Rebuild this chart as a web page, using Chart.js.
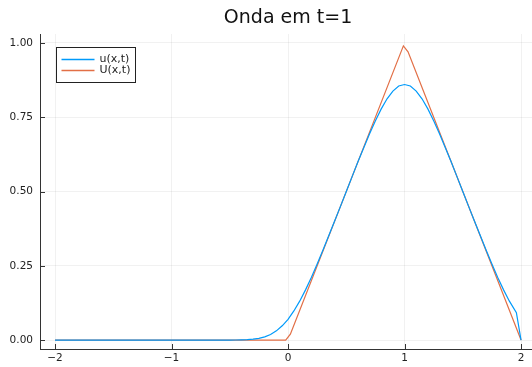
<!DOCTYPE html>
<html>
<head>
<meta charset="utf-8">
<script src="https://cdn.jsdelivr.net/npm/chart.js@4/dist/chart.umd.min.js"></script>
<style>
  html, body { margin: 0; padding: 0; background: #fff; }
  #wrap { width: 532px; height: 367px; }
</style>
</head>
<body>
<div id="wrap"><canvas id="chart" width="532" height="367"></canvas></div>
<script>
// u(x,t) - solucao suavizada
const uX = [-2, -0.5, -0.45, -0.4, -0.35, -0.3, -0.25, -0.2, -0.15, -0.1, -0.05,
  0, 0.05, 0.1, 0.15, 0.2, 0.25, 0.3, 0.35, 0.4, 0.45, 0.5, 0.55, 0.6, 0.65, 0.7,
  0.75, 0.8, 0.85, 0.9, 0.95, 1, 1.05, 1.1, 1.15, 1.2, 1.25, 1.3, 1.35, 1.4, 1.45,
  1.5, 1.55, 1.6, 1.65, 1.7, 1.75, 1.8, 1.85, 1.9, 1.96, 2];
const uY = [0, 0.0001, 0.0003, 0.0007, 0.0015, 0.0031, 0.006, 0.011, 0.019, 0.031, 0.048,
  0.070, 0.098, 0.131, 0.169, 0.211, 0.256, 0.303, 0.352, 0.401, 0.450, 0.500, 0.550, 0.600, 0.647, 0.694,
  0.738, 0.778, 0.812, 0.838, 0.855, 0.860, 0.855, 0.838, 0.812, 0.778, 0.738, 0.694, 0.647, 0.600, 0.550,
  0.500, 0.450, 0.401, 0.352, 0.303, 0.256, 0.211, 0.169, 0.131, 0.092, 0];

// U(x,t) - triangulo
const UX = [-2, -0.02, 0.02, 0.99, 1.03, 2];
const UY = [0, 0, 0.02, 0.99, 0.97, 0];

const xTicks = [-2, -1, 0, 1, 2];
const yTicks = [0, 0.25, 0.5, 0.75, 1];

const blue = "#009AFA";
const orange = "#E26F46";
const axisColor = "#333333";
const gridColor = "rgba(0,0,0,0.055)";
const font = "DejaVu Sans";

function toPoints(xs, ys) {
  return xs.map((x, i) => ({ x: x, y: ys[i] }));
}

// ticks para dentro, titulo e legenda, estilo Plots.jl
const juliaStyle = {
  id: "juliaStyle",
  afterDraw(chart) {
    const ctx = chart.ctx;
    const area = chart.chartArea;
    const xs = chart.scales.x;
    const ys = chart.scales.y;
    ctx.save();
    ctx.strokeStyle = axisColor;
    ctx.lineWidth = 1;
    ctx.beginPath();
    xTicks.forEach((t) => {
      const px = Math.round(xs.getPixelForValue(t)) + 0.5;
      ctx.moveTo(px, area.bottom);
      ctx.lineTo(px, area.bottom - 5);
    });
    yTicks.forEach((t) => {
      const py = Math.round(ys.getPixelForValue(t)) + 0.5;
      ctx.moveTo(area.left, py);
      ctx.lineTo(area.left + 5, py);
    });
    ctx.stroke();

    // titulo centrado na area do grafico (que continua alem da janela)
    ctx.fillStyle = "#111";
    ctx.font = "19px '" + font + "'";
    ctx.textAlign = "center";
    ctx.textBaseline = "middle";
    ctx.fillText("Onda em t=1", (xs.getPixelForValue(-2) + xs.getPixelForValue(2)) / 2, 18.5);

    // legenda
    const lx = Math.round(area.left) + 16.5, ly = Math.round(area.top) + 13.5;
    const lw = 79, lh = 35;
    ctx.fillStyle = "#fff";
    ctx.fillRect(lx, ly, lw, lh);
    ctx.strokeStyle = "#222";
    ctx.lineWidth = 1;
    ctx.strokeRect(lx, ly, lw, lh);
    ctx.font = "11px '" + font + "'";
    ctx.textAlign = "left";
    const colors = [blue, orange];
    chart.data.datasets.forEach((ds, i) => {
      const yy = ly + 12 + i * 11;
      ctx.strokeStyle = colors[i];
      ctx.lineWidth = 1.5;
      ctx.beginPath();
      ctx.moveTo(lx + 5, yy);
      ctx.lineTo(lx + 38, yy);
      ctx.stroke();
      ctx.fillStyle = "#222";
      ctx.fillText(ds.label, lx + 43, yy);
    });
    ctx.restore();
  }
};

new Chart(document.getElementById("chart"), {
  type: "line",
  data: {
    datasets: [
      {
        label: "u(x,t)",
        data: toPoints(uX, uY),
        borderColor: blue,
        borderWidth: 1.2,
        pointRadius: 0,
        tension: 0,
        fill: false,
      },
      {
        label: "U(x,t)",
        data: toPoints(UX, UY),
        borderColor: orange,
        borderWidth: 1.2,
        pointRadius: 0,
        tension: 0,
        fill: false,
      },
    ],
  },
  options: {
    responsive: false,
    animation: false,
    layout: { padding: { left: 0, right: 0, top: 34, bottom: 0 } },
    plugins: {
      legend: { display: false },
      tooltip: { enabled: false },
      title: { display: false },
    },
    scales: {
      x: {
        type: "linear",
        min: -2.129,
        max: 2.094,
        afterBuildTicks: (s) => { s.ticks = xTicks.map((v) => ({ value: v })); },
        afterFit: (s) => { s.height = 18; },
        grid: { color: gridColor, drawTicks: false },
        border: { color: axisColor, width: 1 },
        ticks: {
          padding: 3,
          color: "#222",
          font: { family: font, size: 10.5 },
          maxRotation: 0,
          callback: (v) => (v < 0 ? "\u2212" + Math.abs(v) : String(v)),
        },
      },
      y: {
        min: -0.03,
        max: 1.03,
        afterBuildTicks: (s) => { s.ticks = yTicks.map((v) => ({ value: v })); },
        afterFit: (s) => { s.width = 40; },
        grid: { color: gridColor, drawTicks: false },
        border: { color: axisColor, width: 1 },
        ticks: {
          padding: 7,
          color: "#222",
          font: { family: font, size: 10.5 },
          callback: (v) => v.toFixed(2),
        },
      },
    },
  },
  plugins: [juliaStyle],
});
</script>
</body>
</html>
